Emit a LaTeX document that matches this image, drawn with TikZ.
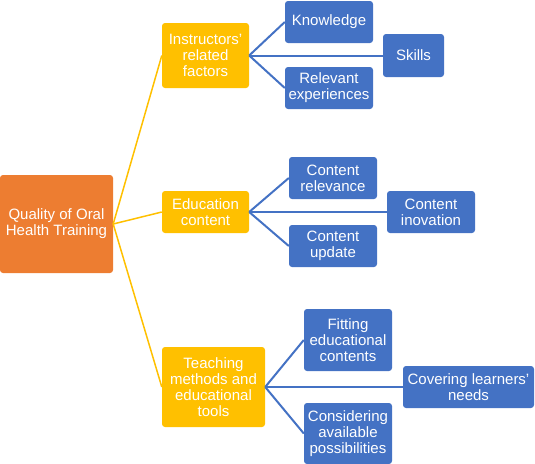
\documentclass[tikz,border=0pt]{standalone}
\usepackage{fontspec}
\setmainfont{Liberation Sans}
\definecolor{rootorange}{HTML}{ED7D31}
\definecolor{factorgold}{HTML}{FFC000}
\definecolor{itemblue}{HTML}{4472C4}
\tikzset{
  box/.style={rounded corners=3pt,inner sep=0pt,align=center,text=white,
    font=\fontsize{15}{16}\selectfont},
  rootbox/.style={box,fill=rootorange,minimum width=113pt,minimum height=98pt},
  factorbox/.style={box,fill=factorgold,minimum width=87pt},
  itembox/.style={box,fill=itemblue,minimum width=88pt,minimum height=42pt},
  goldline/.style={factorgold,line width=1.5pt},
  blueline/.style={itemblue,line width=2pt}
}
\begin{document}
\begin{tikzpicture}[x=1pt,y=-1pt]
  \useasboundingbox (0,0) rectangle (535,463);
  % main topic
  \node[rootbox] (quality) at (56.5,224) {Quality of Oral\\Health Training};
  % factors
  \node[factorbox,minimum height=65pt] (instructors) at (205.5,55.5) {Instructors'\\related\\factors};
  \node[factorbox,minimum height=42pt] (education) at (205.5,212) {Education\\content};
  \node[factorbox,minimum width=103pt,minimum height=80pt] (teaching) at (213.5,387) {Teaching\\methods and\\educational\\tools};
  % instructors
  \node[itembox] (knowledge) at (329,22) {Knowledge};
  \node[itembox,minimum width=61pt,minimum height=43pt] (skills) at (413.5,55.5) {Skills};
  \node[itembox] (experiences) at (329,88) {Relevant\\experiences};
  % education content
  \node[itembox] (relevance) at (333,178) {Content\\relevance};
  \node[itembox] (inovation) at (431,212) {Content\\inovation};
  \node[itembox] (update) at (333,246) {Content\\update};
  % teaching methods
  \node[itembox,minimum height=62pt] (fitting) at (348,340) {Fitting\\educational\\contents};
  \node[itembox,minimum width=131pt] (covering) at (468.5,387) {Covering learners'\\needs};
  \node[itembox,minimum height=61pt] (considering) at (348,433.5) {Considering\\available\\possibilities};
  % connectors
  \foreach \f in {instructors,education,teaching}
    \draw[goldline] (quality.east) -- (\f.west);
  \foreach \i in {knowledge,skills,experiences}
    \draw[blueline] (instructors.east) -- (\i.west);
  \foreach \i in {relevance,inovation,update}
    \draw[blueline] (education.east) -- (\i.west);
  \foreach \i in {fitting,covering,considering}
    \draw[blueline] (teaching.east) -- (\i.west);
\end{tikzpicture}
\end{document}
